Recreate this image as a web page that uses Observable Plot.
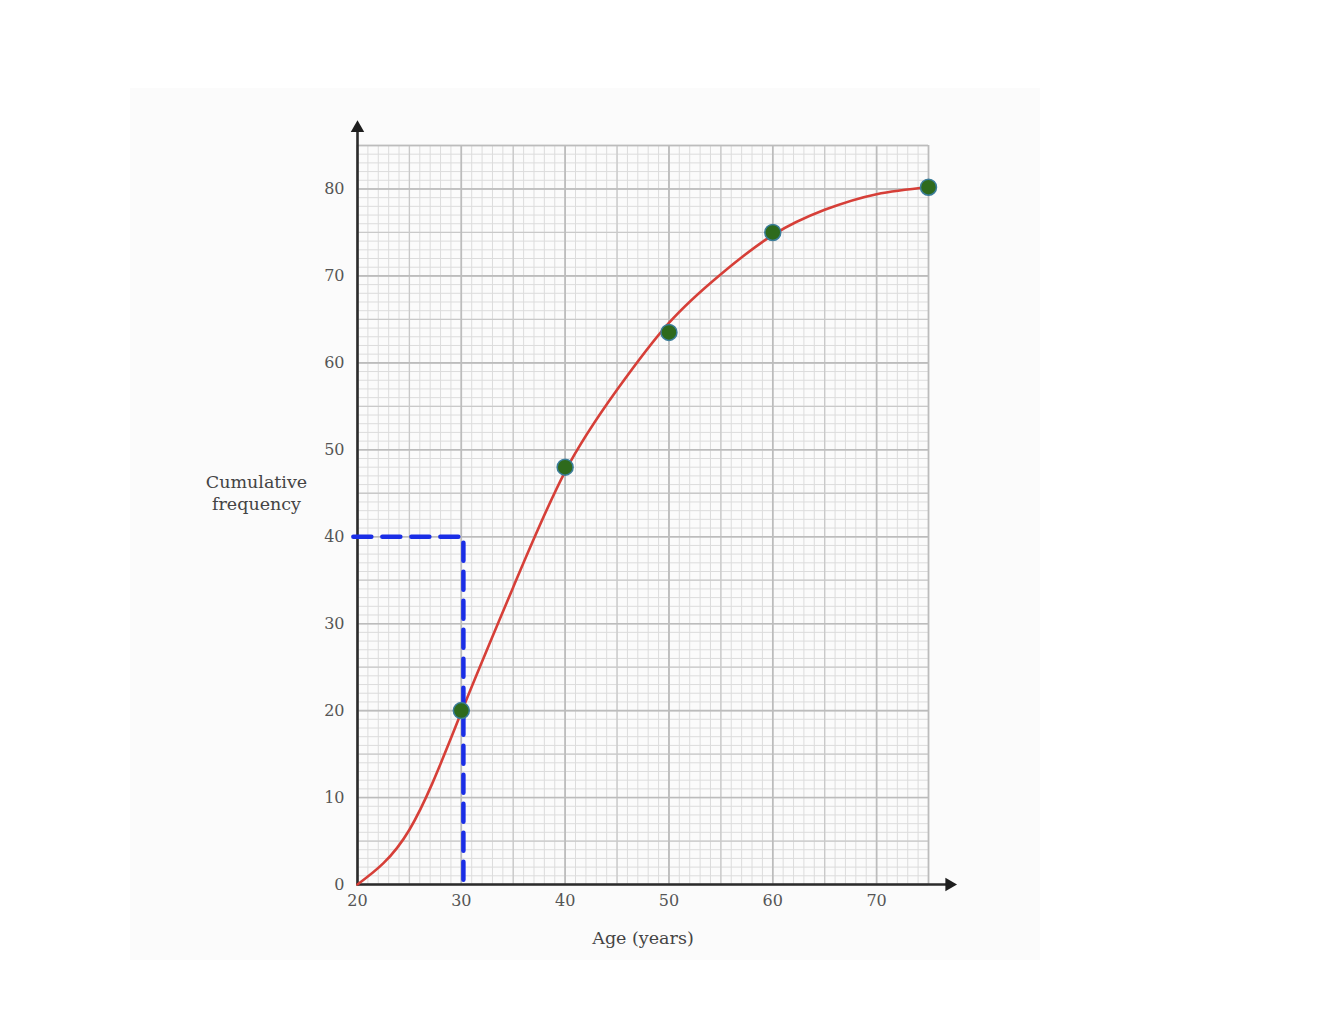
<!DOCTYPE html>
<html>
<head>
<meta charset="utf-8">
<script src="https://cdn.jsdelivr.net/npm/d3@7"></script>
<script src="https://cdn.jsdelivr.net/npm/@observablehq/plot@0.6"></script>
<style>
  html, body { margin: 0; padding: 0; background: #ffffff; overflow: hidden; }
  #wrap { position: relative; width: 1322px; height: 1022px; }
  #panel { position: absolute; left: 130px; top: 88px; width: 910px; height: 872px; background: #fbfbfb; }
  #chart { position: absolute; left: 0; top: 0; }
</style>
</head>
<body>
<div id="wrap"><div id="panel"></div><div id="chart"></div></div>
<script>
// Data points (age, cumulative frequency)
const ages = [30, 40, 50, 60, 75];
const cumFreq = [20, 48, 63.5, 75, 80.2];

// Smooth curve drawn through the plot
const curveAges = [20, 25, 30, 35, 40, 45, 50, 55, 60, 65, 70, 75];
const curveFreq = [0, 6.3, 19.8, 34.2, 47.5, 56.9, 64.6, 70.2, 74.7, 77.6, 79.4, 80.2];

// Dashed median-reading line
const dashAges = [19.6, 30.2, 30.2];
const dashFreq = [40, 40, 0];

// Axis ticks
const xTicks = [20, 30, 40, 50, 60, 70];
const yTicks = [0, 10, 20, 30, 40, 50, 60, 70, 80];
const xDomain = [20, 75];
const yDomain = [0, 85];
const xAxisEnd = 77;
const yAxisEnd = 87;

const points = ages.map((a, i) => ({age: a, cf: cumFreq[i]}));
const curve = curveAges.map((a, i) => ({age: a, cf: curveFreq[i]}));
const dash = dashAges.map((a, i) => ({age: a, cf: dashFreq[i]}));

const minorX = d3.range(xDomain[0], xDomain[1] + 1, 1);
const minorY = d3.range(yDomain[0], yDomain[1] + 1, 1);
const midX = minorX.filter(v => v % 5 === 0);
const midY = minorY.filter(v => v % 5 === 0);
const majX = minorX.filter(v => v % 10 === 0).concat([75]);
const majY = minorY.filter(v => v % 10 === 0).concat([85]);

const serif = "'DejaVu Serif', 'Liberation Serif', serif";

const chart = Plot.plot({
  width: 1322,
  height: 1022,
  marginLeft: 357,
  marginRight: 394,
  marginTop: 145,
  marginBottom: 138,
  style: {fontFamily: serif, fontSize: "16px", background: "transparent", color: "#555"},
  x: {domain: xDomain},
  y: {domain: yDomain},
  marks: [
    Plot.ruleX(minorX, {x: d => d, y1: yDomain[0], y2: yDomain[1], stroke: "#dcdcdc", strokeWidth: 1}),
    Plot.ruleY(minorY, {y: d => d, x1: xDomain[0], x2: xDomain[1], stroke: "#dcdcdc", strokeWidth: 1}),
    Plot.ruleX(midX, {x: d => d, y1: yDomain[0], y2: yDomain[1], stroke: "#c9c9c9", strokeWidth: 1.3}),
    Plot.ruleY(midY, {y: d => d, x1: xDomain[0], x2: xDomain[1], stroke: "#c9c9c9", strokeWidth: 1.3}),
    Plot.ruleX(majX, {x: d => d, y1: yDomain[0], y2: yDomain[1], stroke: "#bcbcbc", strokeWidth: 1.6}),
    Plot.ruleY(majY, {y: d => d, x1: xDomain[0], x2: xDomain[1], stroke: "#bcbcbc", strokeWidth: 1.6}),
    Plot.axisX({ticks: xTicks, tickSize: 0, tickPadding: 10, label: null, fill: "#555", fontSize: 16}),
    Plot.axisY({ticks: yTicks, tickSize: 0, tickPadding: 13, label: null, fill: "#555", fontSize: 16}),
    // axis lines with arrowheads
    Plot.line([{age: xDomain[0], cf: 0}, {age: xAxisEnd, cf: 0}], {x: "age", y: "cf", stroke: "#2b2b2b", strokeWidth: 2.6}),
    Plot.line([{age: xDomain[0], cf: 0}, {age: xDomain[0], cf: yAxisEnd}], {x: "age", y: "cf", stroke: "#2b2b2b", strokeWidth: 2.6}),
    Plot.dot([{age: xAxisEnd, cf: 0}], {x: "age", y: "cf", symbol: "triangle", r: 5, fill: "#1e1e1e", rotate: 90}),
    Plot.dot([{age: xDomain[0], cf: yAxisEnd}], {x: "age", y: "cf", symbol: "triangle", r: 5, fill: "#1e1e1e"}),
    // cumulative frequency curve
    Plot.line(curve, {x: "age", y: "cf", curve: "natural", stroke: "#d63f38", strokeWidth: 2.6}),
    // dashed reading line
    Plot.line(dash, {x: "age", y: "cf", stroke: "#1a2ee6", strokeWidth: 4.5, strokeDasharray: "18,11"}),
    // plotted points
    Plot.dot(points, {x: "age", y: "cf", r: 8, fill: "#2e6a1c", stroke: "#3b7d9a", strokeWidth: 1.5}),
    // axis titles
    Plot.text(["Cumulative\nfrequency"], {frameAnchor: "left", textAnchor: "middle", dx: -101, dy: -23, text: d => d, fontSize: 17.5, fill: "#444", lineHeight: 1.25}),
    Plot.text(["Age (years)"], {frameAnchor: "bottom", textAnchor: "middle", dy: 59, text: d => d, fontSize: 17.5, fill: "#444"})
  ]
});
document.getElementById("chart").appendChild(chart);
</script>
</body>
</html>
